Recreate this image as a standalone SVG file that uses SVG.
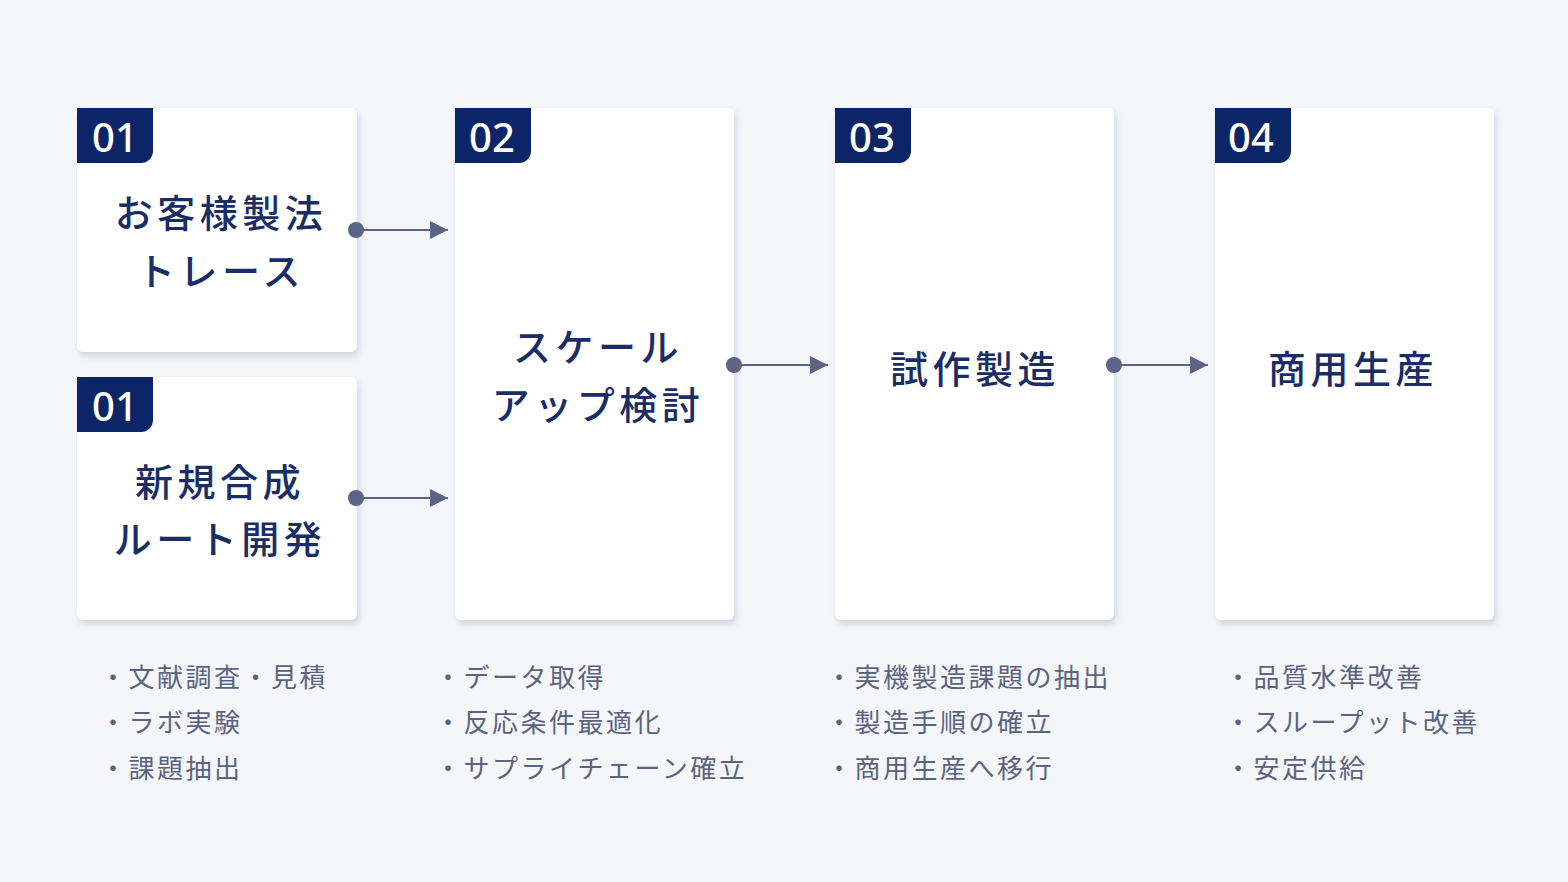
<svg xmlns="http://www.w3.org/2000/svg" width="1568" height="882" viewBox="0 0 1568 882">
<style>
.card{fill:#fff;filter:url(#sh)}
.badge{fill:#0c2566}
.num{font-family:"Noto Sans","Noto Sans CJK JP",sans-serif;font-size:40px;fill:#fff;font-weight:500}
.t{font-family:"Noto Sans CJK JP",sans-serif;font-size:38px;font-weight:500;fill:#1a2d66;text-anchor:middle;letter-spacing:4.5px}
.l{font-family:"Noto Sans CJK JP",sans-serif;font-size:26px;fill:#5a6480;letter-spacing:2.5px}
.c line{stroke:#5b6485;stroke-width:2}
.c circle{fill:#5b6485}
</style>
<defs>
<filter id="sh" x="-10%" y="-10%" width="120%" height="120%"><feDropShadow dx="2" dy="4" stdDeviation="3" flood-color="#8a93a8" flood-opacity="0.35"/></filter>
<marker id="a2" viewBox="0 0 10 10" markerWidth="18" markerHeight="18" refX="10" refY="5" orient="auto" markerUnits="userSpaceOnUse"><path d="M0,0 L10,5 L0,10z" fill="#5b6485"/></marker>
</defs>
<rect width="1568" height="882" fill="#f4f6fa"/>
<g id="n1a"><rect class="card" x="77" y="108" width="280" height="244" rx="6"/><path class="badge" d="M77,108 h76 v43 a12,12 0 0 1 -12,12 h-64z"/><text class="num" x="92" y="152">01</text><text class="t" x="221" y="227">お客様製法</text><text class="t" x="221" y="285">トレース</text></g>
<g id="n1b"><rect class="card" x="77" y="377" width="280" height="243" rx="6"/><path class="badge" d="M77,377 h76 v43 a12,12 0 0 1 -12,12 h-64z"/><text class="num" x="92" y="421">01</text><text class="t" x="220" y="496">新規合成</text><text class="t" x="220" y="553">ルート開発</text></g>
<g id="n2"><rect class="card" x="455" y="108" width="279" height="512" rx="6"/><path class="badge" d="M455,108 h76 v43 a12,12 0 0 1 -12,12 h-64z"/><text class="num" x="469" y="152">02</text><text class="t" x="598" y="361">スケール</text><text class="t" x="598" y="419">アップ検討</text></g>
<g id="n3"><rect class="card" x="835" y="108" width="279" height="512" rx="6"/><path class="badge" d="M835,108 h76 v43 a12,12 0 0 1 -12,12 h-64z"/><text class="num" x="849" y="152">03</text><text class="t" x="975" y="383">試作製造</text></g>
<g id="n4"><rect class="card" x="1215" y="108" width="279" height="512" rx="6"/><path class="badge" d="M1215,108 h76 v43 a12,12 0 0 1 -12,12 h-64z"/><text class="num" x="1228" y="152">04</text><text class="t" x="1353" y="383">商用生産</text></g>
<g class="c" id="connectors">
<circle cx="356" cy="230" r="8"/><line x1="356" y1="230" x2="448" y2="230" marker-end="url(#a2)"/>
<circle cx="356" cy="498" r="8"/><line x1="356" y1="498" x2="448" y2="498" marker-end="url(#a2)"/>
<circle cx="734" cy="365" r="8"/><line x1="734" y1="365" x2="828" y2="365" marker-end="url(#a2)"/>
<circle cx="1114" cy="365" r="8"/><line x1="1114" y1="365" x2="1208" y2="365" marker-end="url(#a2)"/>
</g>
<g id="lists">
<text class="l" x="100" y="687">・文献調査・見積</text>
<text class="l" x="100" y="732">・ラボ実験</text>
<text class="l" x="100" y="778">・課題抽出</text>
<text class="l" x="435" y="687">・データ取得</text>
<text class="l" x="435" y="732">・反応条件最適化</text>
<text class="l" x="435" y="778">・サプライチェーン確立</text>
<text class="l" x="826" y="687">・実機製造課題の抽出</text>
<text class="l" x="826" y="732">・製造手順の確立</text>
<text class="l" x="826" y="778">・商用生産へ移行</text>
<text class="l" x="1225" y="687">・品質水準改善</text>
<text class="l" x="1225" y="732">・スループット改善</text>
<text class="l" x="1225" y="778">・安定供給</text>
</g>
</svg>
